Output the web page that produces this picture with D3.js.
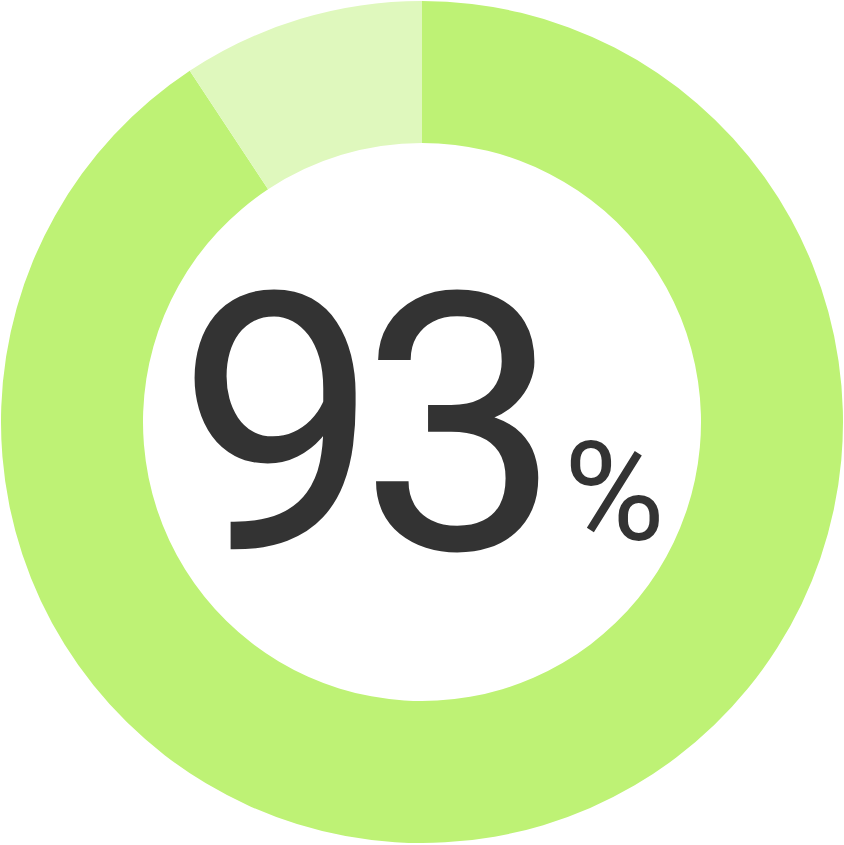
<!DOCTYPE html>
<html>
<head>
<meta charset="utf-8">
<script src="https://cdn.jsdelivr.net/npm/d3@7"></script>
<style>
  html,body{margin:0;padding:0;background:#fff;overflow:hidden;}
</style>
</head>
<body>
<div id="chart"></div>
<script>
// data
var labels = ['done', 'rest'];
var values = [90.7, 9.3];
var colors = ['#bef275', '#dff8bd'];
var valueText = '93';
var unitText = '%';

var W = 844, H = 845,
    cx = 422, cy = 422,
    rOuter = 421, rInner = 279;

var svg = d3.select('#chart').append('svg')
    .attr('width', W).attr('height', H);

var g = svg.append('g').attr('transform', 'translate(' + cx + ',' + cy + ')');

var pie = d3.pie().sort(null).value(function(d){ return d; });
var arc = d3.arc().innerRadius(rInner).outerRadius(rOuter);

g.selectAll('path')
  .data(pie(values))
  .enter().append('path')
  .attr('d', arc)
  .attr('fill', function(d, i){ return colors[i]; });

// centre label
var txt = g.append('text')
    .attr('x', -245)
    .attr('y', 127)
    .attr('fill', '#333333')
    .style('font-family', 'Roboto, "Noto Sans", sans-serif');
txt.append('tspan')
    .attr('font-size', 360)
    .attr('letter-spacing', -20)
    .text(valueText);
txt.append('tspan')
    .attr('font-size', 138)
    .attr('dx', 22)
    .attr('dy', -9)
    .text(unitText);
</script>
</body>
</html>
